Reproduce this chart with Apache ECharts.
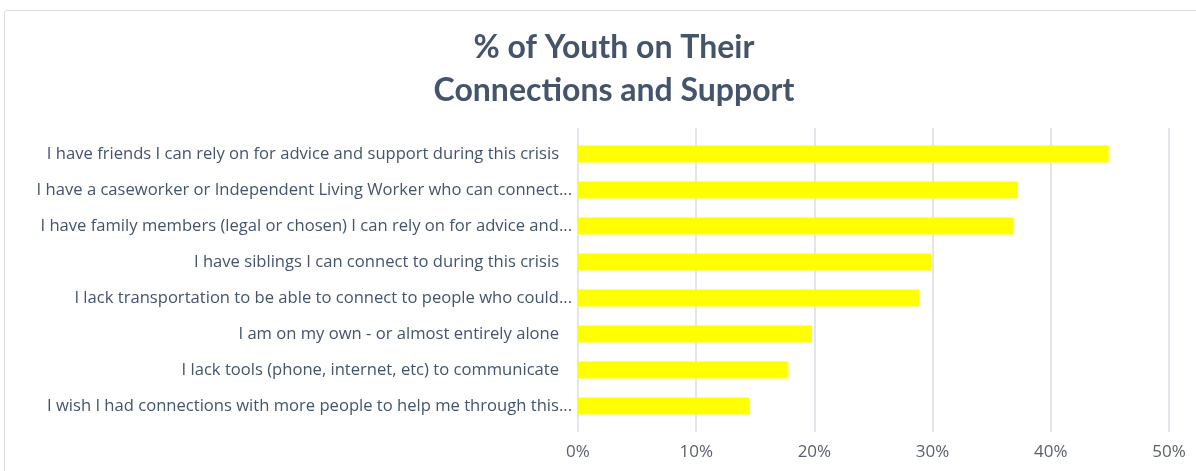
<!DOCTYPE html>
<html>
<head>
<meta charset="utf-8">
<script src="https://cdn.jsdelivr.net/npm/echarts@6/dist/echarts.min.js"></script>
<style>
  html, body { margin: 0; padding: 0; background: #fff; }
  #frame { position: absolute; left: 4px; top: 10px; width: 1200px; height: 470px; border: 1px solid #dadde3; border-radius: 3px; }
  #main { position: absolute; left: 0; top: 0; width: 1196px; height: 471px; }
</style>
</head>
<body>
<div id="frame"></div>
<div id="main"></div>
<script>
// categories, top to bottom
var categories = [
  'I have friends I can rely on for advice and support during this crisis   ',
  'I have a caseworker or Independent Living Worker who can connect...',
  'I have family members (legal or chosen) I can rely on for advice and...',
  'I have siblings I can connect to during this crisis   ',
  'I lack transportation to be able to connect to people who could...',
  'I am on my own - or almost entirely alone   ',
  'I lack tools (phone, internet, etc) to communicate   ',
  'I wish I had connections with more people to help me through this...'
];
var percents = [44.9, 37.2, 36.8, 29.9, 28.9, 19.8, 17.8, 14.5];
var xTicks = [0, 10, 20, 30, 40, 50];

var chart = echarts.init(document.getElementById('main'));
var textColor = '#44546a';

//grid 0 = gridlines + x labels, grid 1 = bars + category labels
chart.setOption({
  animation: false,
  title: {
    text: '% of Youth on Their\nConnections and Support',
    left: 609,
    top: 21,
    textAlign: 'center',
    textStyle: {
      fontFamily: 'Lato',
      fontWeight: 'bold',
      fontSize: 32,
      lineHeight: 43,
      color: textColor
    }
  },
  grid: [
    { left: 578, right: 27, top: 128, bottom: 39 },
    { left: 578, right: 27, top: 136, bottom: 47 }
  ],
  xAxis: [{
    type: 'value',
    gridIndex: 0,
    min: xTicks[0],
    max: xTicks[xTicks.length - 1],
    interval: 10,
    axisLine: { show: false },
    axisTick: { show: false },
    splitLine: { lineStyle: { color: '#d9dde6', width: 1.5 } },
    axisLabel: {
      formatter: '{value}%',
      margin: 12,
      fontFamily: 'Open Sans',
      fontSize: 17,
      color: '#595f6b'
    }
  }, {
    type: 'value',
    gridIndex: 1,
    min: xTicks[0],
    max: xTicks[xTicks.length - 1],
    show: false
  }],
  yAxis: [{
    type: 'category',
    gridIndex: 0,
    show: false,
    data: categories
  }, {
    type: 'category',
    gridIndex: 1,
    inverse: true,
    data: categories,
    axisLine: { show: false },
    axisTick: { show: false },
    axisLabel: {
      margin: 6,
      fontFamily: 'Open Sans',
      fontSize: 16.6,
      color: textColor
    }
  }],
  series: [{
    type: 'bar',
    xAxisIndex: 1,
    yAxisIndex: 1,
    data: percents,
    barWidth: 17,
    itemStyle: { color: '#ffff00' }
  }]
});
</script>
</body>
</html>
